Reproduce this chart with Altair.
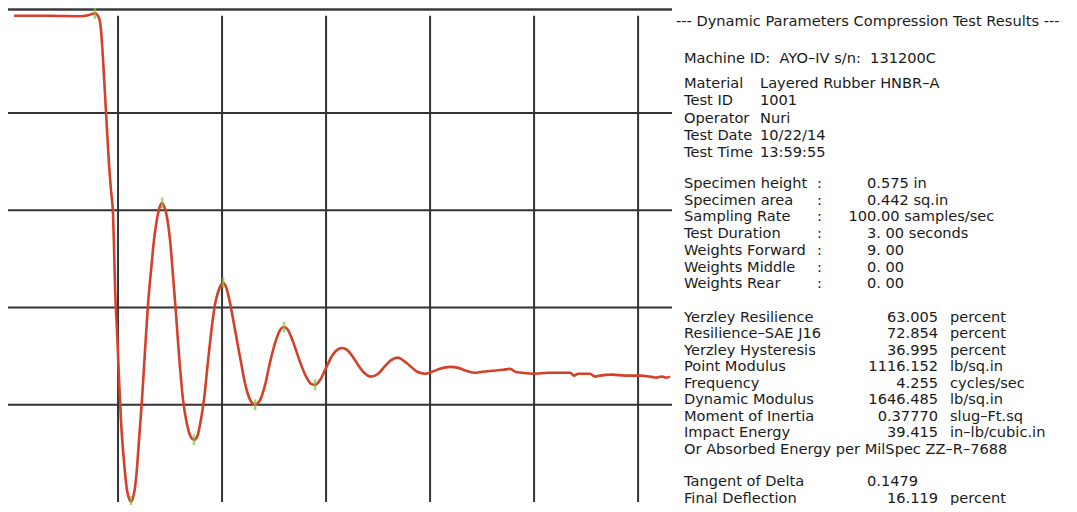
import altair as alt
import pandas as pd

# ---------------- data ----------------
time_s = [0.0, 0.173, 0.317, 0.356, 0.389, 0.409, 0.418, 0.428, 0.4375, 0.447,
          0.457, 0.466, 0.476, 0.481, 0.486, 0.495, 0.505, 0.514, 0.529, 0.543,
          0.553, 0.5625, 0.572, 0.587, 0.601, 0.615, 0.630, 0.644, 0.659, 0.673,
          0.688, 0.702, 0.712, 0.721, 0.736, 0.750, 0.764, 0.779, 0.793, 0.8125,
          0.832, 0.851, 0.865, 0.880, 0.894, 0.913, 0.933, 0.952, 0.966, 0.981,
          0.995, 1.005, 1.019, 1.038, 1.0625, 1.087, 1.111, 1.135, 1.159, 1.183,
          1.207, 1.231, 1.260, 1.279, 1.298, 1.317, 1.341, 1.375, 1.404, 1.428,
          1.447, 1.471, 1.500, 1.529, 1.553, 1.577, 1.601, 1.625, 1.654, 1.683,
          1.716, 1.750, 1.784, 1.8125, 1.846, 1.875, 1.904, 1.938, 1.976, 2.010,
          2.048, 2.096, 2.135, 2.173, 2.212, 2.25, 2.298, 2.351, 2.385, 2.409,
          2.442, 2.505, 2.567, 2.625, 2.673, 2.692, 2.712, 2.769, 2.793, 2.817,
          2.875, 2.938, 3.010, 3.058, 3.087, 3.115, 3.135, 3.154]
deflection = [1.000, 1.000, 0.999, 1.001, 1.005, 0.995, 0.971, 0.909, 0.837, 0.765,
              0.693, 0.642, 0.591, 0.519, 0.436, 0.354, 0.251, 0.169, 0.081, 0.025,
              0.007, 0.001, 0.009, 0.050, 0.128, 0.210, 0.313, 0.406, 0.478, 0.539,
              0.584, 0.609, 0.615, 0.609, 0.584, 0.539, 0.467, 0.385, 0.303, 0.210,
              0.159, 0.133, 0.128, 0.134, 0.159, 0.210, 0.292, 0.364, 0.406, 0.432,
              0.447, 0.451, 0.443, 0.410, 0.354, 0.297, 0.243, 0.210, 0.200, 0.210,
              0.241, 0.288, 0.334, 0.354, 0.360, 0.354, 0.330, 0.288, 0.258, 0.243,
              0.241, 0.251, 0.276, 0.301, 0.313, 0.317, 0.313, 0.301, 0.282, 0.266,
              0.258, 0.264, 0.280, 0.292, 0.297, 0.290, 0.280, 0.268, 0.264, 0.268,
              0.274, 0.278, 0.276, 0.270, 0.266, 0.268, 0.270, 0.272, 0.274, 0.268,
              0.266, 0.264, 0.266, 0.266, 0.266, 0.260, 0.264, 0.264, 0.258, 0.260,
              0.262, 0.260, 0.260, 0.258, 0.256, 0.258, 0.256, 0.258]

peak_t = [0.389, 0.5625, 0.712, 0.865, 1.005, 1.159, 1.298, 1.447]
peak_y = [1.005, 0.001, 0.615, 0.128, 0.451, 0.200, 0.360, 0.241]

grid_t = [0.5, 1.0, 1.5, 2.0, 2.5, 3.0]
grid_y = [0.2, 0.4, 0.6, 0.8]

title_text = "--- Dynamic Parameters Compression Test Results ---"
machine_text = "Machine ID:\u00a0 AYO\u2013IV s/n:\u00a0 131200C"

g1_labels = ["Material", "Test ID", "Operator", "Test Date", "Test Time"]
g1_values = ["Layered Rubber HNBR\u2013A", "1001", "Nuri", "10/22/14", "13:59:55"]

g2_labels = ["Specimen height", "Specimen area", "Sampling Rate", "Test Duration",
             "Weights Forward", "Weights Middle", "Weights Rear"]
g2_int = ["0", "0", "100", "3", "9", "0", "0"]
g2_rest = [".575 in", ".442 sq.in", ".00 samples/sec", ". 00 seconds", ". 00", ". 00", ". 00"]

g3_labels = ["Yerzley Resilience", "Resilience\u2013SAE J16", "Yerzley Hysteresis",
             "Point Modulus", "Frequency", "Dynamic Modulus", "Moment of Inertia",
             "Impact Energy"]
g3_values = ["63.005", "72.854", "36.995", "1116.152", "4.255", "1646.485",
             "0.37770", "39.415"]
g3_units = ["percent", "percent", "percent", "lb/sq.in", "cycles/sec", "lb/sq.in",
            "slug\u2013Ft.sq", "in\u2013lb/cubic.in"]
absorbed_text = "Or Absorbed Energy per MilSpec ZZ\u2013R\u20137688"

g4_labels = ["Tangent of Delta", "Final Deflection"]
g4_values = ["0.1479", "16.119"]
g4_units = ["", "percent"]

# ---------------- layout ----------------
TOTAL_W, H = 1061, 497
W = 664                      # plot area width
FONT = "DejaVu Sans"
FS = 14.6
TXT = "#1a1a1a"
GRID = "#333333"

xs = alt.Scale(domain=[-0.029, 3.163], range=[0, W], nice=False, zero=False)
ys = alt.Scale(domain=[-0.006, 1.016], nice=False, zero=False)

curve_df = pd.DataFrame({"t": time_s, "d": deflection})
peaks_df = pd.DataFrame({"t": peak_t, "d": peak_y})
vgrid_df = pd.DataFrame({"t": grid_t, "y0": [0.0] * len(grid_t), "y1": [1.0] * len(grid_t)})
hgrid_df = pd.DataFrame({"y": grid_y})
top_df = pd.DataFrame({"y": [1.013]})

vgrid = alt.Chart(vgrid_df).mark_rule(color=GRID, strokeWidth=2).encode(
    x=alt.X("t:Q", scale=xs, axis=None),
    y=alt.Y("y0:Q", scale=ys, axis=None),
    y2="y1:Q",
)
hgrid = alt.Chart(hgrid_df).mark_rule(color=GRID, strokeWidth=2).encode(
    y=alt.Y("y:Q", scale=ys, axis=None),
    x=alt.value(0), x2=alt.value(W),
)
topline = alt.Chart(top_df).mark_rule(color="#3a3a3a", strokeWidth=2.6).encode(
    y=alt.Y("y:Q", scale=ys, axis=None),
    x=alt.value(0), x2=alt.value(W),
)
line = alt.Chart(curve_df).mark_line(color="#d4402a", strokeWidth=2.6,
                                     interpolate="monotone").encode(
    x=alt.X("t:Q", scale=xs, axis=None),
    y=alt.Y("d:Q", scale=ys, axis=None),
)
ticks = alt.Chart(peaks_df).mark_tick(orient="vertical", color="#7cc242",
                                      size=11, thickness=2.5).encode(
    x=alt.X("t:Q", scale=xs, axis=None),
    y=alt.Y("d:Q", scale=ys, axis=None),
)

# text panel rows (x, y in chart pixels)
X_TITLE, X_LAB, X_G1V, X_COLON, X_DEC, X_G4V, X_RIGHT, X_UNIT = 668, 676, 752, 809, 868.3, 859, 930, 942
left_rows, right_rows = [], []
left_rows.append((title_text, X_TITLE, 13.5))
left_rows.append((machine_text, X_LAB, 51))
for i, (lab, val) in enumerate(zip(g1_labels, g1_values)):
    y = 76 + i * 17.3
    left_rows += [(lab, X_LAB, y), (val, X_G1V, y)]
for i, (lab, a, b) in enumerate(zip(g2_labels, g2_int, g2_rest)):
    y = 176 + i * 16.7
    left_rows += [(lab, X_LAB, y), (":", X_COLON, y), (b, X_DEC, y)]
    right_rows.append((a, X_DEC, y))
for i, (lab, v, u) in enumerate(zip(g3_labels, g3_values, g3_units)):
    y = 309.5 + i * 16.5
    left_rows += [(lab, X_LAB, y), (u, X_UNIT, y)]
    right_rows.append((v, X_RIGHT, y))
left_rows.append((absorbed_text, X_LAB, 309.5 + 8 * 16.5))
for i, (lab, v, u) in enumerate(zip(g4_labels, g4_values, g4_units)):
    y = 473.5 + i * 17
    left_rows.append((lab, X_LAB, y))
    if u:
        right_rows.append((v, X_RIGHT, y))
        left_rows.append((u, X_UNIT, y))
    else:
        left_rows.append((v, X_G4V, y))

left_df = pd.DataFrame(left_rows, columns=["text", "px", "py"])
right_df = pd.DataFrame(right_rows, columns=["text", "px", "py"])

def text_layer(df, align):
    return alt.Chart(df).mark_text(align=align, baseline="middle", font=FONT,
                                   fontSize=FS, color=TXT).encode(
        x=alt.X("px:Q", scale=None, axis=None),
        y=alt.Y("py:Q", scale=None, axis=None),
        text="text:N",
    )

chart = alt.layer(
    hgrid, topline, vgrid, line, ticks,
    text_layer(left_df, "left"), text_layer(right_df, "right"),
).resolve_scale(x="independent", y="independent").properties(
    width=TOTAL_W, height=H, padding=0, autosize=alt.AutoSizeParams(type="none"),
).configure_view(stroke=None)

chart.save("out.html", embed_options={"renderer": "svg", "actions": False})
